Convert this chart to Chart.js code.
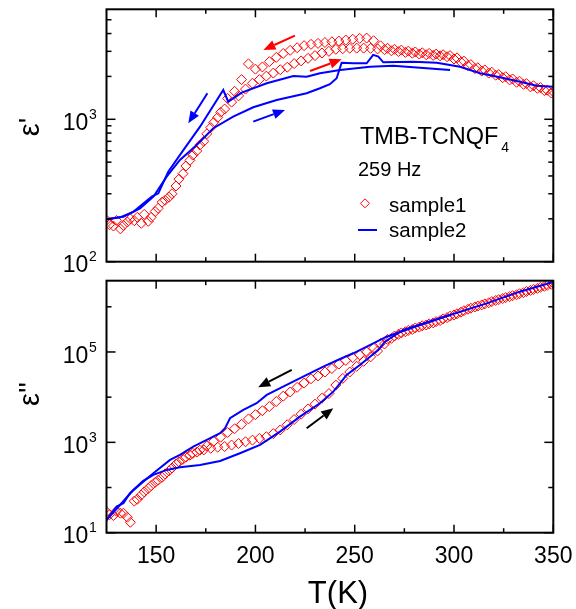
<!DOCTYPE html>
<html>
<head>
<meta charset="utf-8">
<script src="https://cdn.jsdelivr.net/npm/chart.js"></script>
<style>
  body { margin: 0; background: #fff; }
  #wrap { position: relative; width: 576px; height: 609px; }
  canvas { position: absolute; left: 0; }
  #cTop { top: 0; }
  #cBot { top: 272px; }
</style>
</head>
<body>
<div id="wrap">
  <canvas id="cTop" width="576" height="276"></canvas>
  <canvas id="cBot" width="576" height="337"></canvas>
</div>
<script>
// ---- sample1 (red diamonds), heating and cooling runs ----
var tHeatRed = [125,128.5,132,135.5,139,142.5,146,149.5,153,156.5,160,163.5,167,170.5,174,177.5,181,184.5,188,191.5,
  195,198.5,202,205.5,209,212.5,216,219.5,223,226.5,230,233.5,237,240.5,244,247.5,251,254.5,258,261.5,
  265,268.5,272,275.5,279,282.5,286,289.5,293,296.5,300,303.5,307,310.5,314,317.5,321,324.5,328,331.5,
  335,338.5,342,345.5,349];
var eps1HeatRed = [196,178,170,190,194,186,192,225,262,284,340,415,515,600,700,875,1030,1180,1320,1460,
  1630,1790,1900,2010,2110,2230,2320,2460,2570,2680,2800,2920,3000,3100,3130,3155,3160,3160,3150,3120,
  3080,3030,2990,2950,2910,2870,2840,2810,2790,2750,2650,2520,2380,2270,2180,2110,2040,1960,1890,1820,
  1760,1690,1650,1590,1530];
var eps2HeatRed = [29,24,27,22,50,68,95,130,168,235,330,420,520,610,680,740,780,810,870,940,
  1030,1120,1220,1330,1560,1880,2450,3200,4200,5500,7000,9500,12000,18500,26000,36000,48000,62000,78000,105000,
  150000,200000,245000,280000,315000,355000,395000,440000,495000,575000,660000,760000,880000,990000,1100000,1230000,1380000,1520000,1680000,1850000,
  2050000,2300000,2550000,2850000,3150000];

var tCoolRed = [126.5,130,133.5,137,140.5,144,147.5,151,154.5,158,161.5,165,168.5,172,175.5,179,182.5,186,189.5,193,
  196.5,200,203.5,207,210.5,214,217.5,221,224.5,228,231.5,235,238.5,242,245.5,249,252.5,256,259.5,263,
  266.5,270,273.5,277,280.5,284,287.5,291,294.5,298,301.5,305,308.5,312,315.5,319,322.5,326,329.5,333,
  336.5,340,343.5,347,350];
var eps1CoolRed = [182,195,180,200,205,215,205,237,270,300,380,470,560,660,790,950,1120,1400,1570,1900,
  2450,2250,2330,2540,2720,2900,3050,3180,3290,3360,3410,3460,3500,3540,3600,3650,3700,3720,3560,3280,
  3150,3100,3060,3010,2970,2930,2900,2870,2840,2800,2700,2560,2420,2300,2220,2140,2060,1990,1920,1850,
  1780,1720,1670,1600,1560];
var eps2CoolRed = [25,30,27,17,55,80,110,145,200,270,370,470,570,670,830,1050,1300,1650,2000,2500,
  3300,4100,5000,6200,8000,10500,13000,16500,20500,25500,29500,36000,43000,54000,65000,75000,86000,100000,122000,155000,
  190000,225000,265000,300000,340000,380000,420000,470000,540000,620000,700000,820000,930000,1040000,1160000,1300000,1440000,1600000,1760000,1950000,
  2180000,2420000,2700000,3000000,3300000];

// ---- sample2 (blue line) ----
var tHeatBlue1 = [125,133.5,141.9,148.6,155.3,162,170.4,178.8,188.8,198.9,210.7,225.8,232.5,237.5,240.9,243.4,249.3,256,259.3,261.9,264.4,279.5,291.3,303,313.1,323.1,333.2,341.6,350];
var eps1HeatBlue = [199,207,237,286,396,518,660,865,1043,1214,1367,1523,1651,1763,1941,2496,2473,2473,2833,2756,2513,2535,2495,2339,2104,1972,1837,1722,1694];
var tCoolBlue1 = [298,282.9,269.4,257.7,242.6,232.5,225.8,219.1,205.7,193.1,186.3,183.8,172.1,163.7,156.1,151.1,147.8,138.5,131.8,125];
var eps1CoolBlue = [2220,2301,2377,2339,2220,2104,1990,2015,1791,1538,1329,1606,887,608,428,302,286,224,205,199];

var tHeatBlue2 = [125,131.8,138.5,143.5,148.6,155.3,162,172.1,182.2,192.2,202.3,212.4,222.4,232.5,239.2,242.6,245.9,252.6,257.7,261.9,265.2,274.4,298,316.4,333.2,350];
var eps2HeatBlue = [19,41,88,140,190,245,281,316,387,574,875,1726,3710,7330,13250,20300,31000,51500,78700,111000,169000,307000,659000,1190000,2160000,3550000];
var tCoolBlue2 = [298,282.9,266.1,249.3,242.6,234.2,225.8,215.7,205.7,200.6,193.9,187.2,184.7,182.2,175.5,168.7,162,157,148.6,143.5,136.8,133.5,130.1,125];
var eps2CoolBlue = [659000,395000,218000,93600,70000,47300,31000,18600,11190,7330,5210,3410,2050,1589,1130,804,526,408,207,135,75,45,38,19];

// ---- axes ----
var xMajor = [150, 200, 250, 300, 350];
var xMinor = [175, 225, 275, 325];
var topYMajor = [100, 1000];
var topYMinor = [200, 300, 400, 500, 600, 700, 800, 900, 2000, 3000, 4000, 5000];
var botYMajor = [10, 1000, 100000];
var botYMinor = [100, 10000, 1000000];

// direction arrows [T0, eps0, T1, eps1]
var topArrows = [
  {p: [219.9, 3864, 204, 3070], c: '#ff0000'},
  {p: [227.5, 2183, 243.4, 2637], c: '#ff0000'},
  {p: [175.8, 1523, 166.2, 937], c: '#0000ff'},
  {p: [198.9, 962, 214.9, 1162], c: '#0000ff'}
];
var botArrows = [
  {p: [218.3, 40000, 201.4, 16600], c: '#000'},
  {p: [225.8, 2050, 239.2, 5680], c: '#000'}
];

var FONT = '"Liberation Sans", Arial, sans-serif';

function pts(xs, ys) {
  return xs.map(function (t, i) { return {x: t, y: ys[i]}; });
}

function redSet(xs, ys) {
  return {data: pts(xs, ys), showLine: false, pointStyle: 'rectRot', pointRadius: 5,
    borderColor: '#ff0000', backgroundColor: 'rgba(0,0,0,0)', borderWidth: 1};
}
function blueSet(xs, ys) {
  return {data: pts(xs, ys), showLine: true, pointRadius: 0, borderColor: '#0000ff',
    borderWidth: 2, fill: false, tension: 0};
}

function seg(ctx, x0, y0, x1, y1) {
  ctx.beginPath(); ctx.moveTo(x0, y0); ctx.lineTo(x1, y1); ctx.stroke();
}

function arrow(ctx, x0, y0, x1, y1, color) {
  var ang = Math.atan2(y1 - y0, x1 - x0), head = 12, half = 5;
  var bx = x1 - head * Math.cos(ang), by = y1 - head * Math.sin(ang);
  ctx.strokeStyle = color; ctx.fillStyle = color; ctx.lineWidth = 2;
  seg(ctx, x0, y0, bx, by);
  ctx.beginPath();
  ctx.moveTo(x1, y1);
  ctx.lineTo(bx + half * Math.sin(ang), by - half * Math.cos(ang));
  ctx.lineTo(bx - half * Math.sin(ang), by + half * Math.cos(ang));
  ctx.closePath(); ctx.fill();
}

function makeDecor(yMajor, yMinor, arrows, xLabels) {
  return {
    id: 'decor',
    afterDatasetsDraw: function (chart) {
      var ctx = chart.ctx, a = chart.chartArea, xs = chart.scales.x, ys = chart.scales.y;
      ctx.save();
      ctx.strokeStyle = '#000';
      ctx.lineWidth = 1.5;
      function vt(v, len) {
        var p = xs.getPixelForValue(v);
        seg(ctx, p, a.bottom, p, a.bottom - len); seg(ctx, p, a.top, p, a.top + len);
      }
      function ht(v, len) {
        var p = ys.getPixelForValue(v);
        seg(ctx, a.left, p, a.left + len, p); seg(ctx, a.right, p, a.right - len, p);
      }
      xMajor.forEach(function (v) { vt(v, 8); });
      xMinor.forEach(function (v) { vt(v, 4.5); });
      yMajor.forEach(function (v) { ht(v, 9); });
      yMinor.forEach(function (v) { ht(v, 5); });
      ctx.lineWidth = 2;
      ctx.strokeRect(a.left, a.top, a.right - a.left, a.bottom - a.top);

      ctx.fillStyle = '#000';
      yMajor.forEach(function (v) {
        var p = ys.getPixelForValue(v);
        ctx.font = '23px ' + FONT; ctx.textAlign = 'right';
        ctx.fillText('10', a.left - 18.2, p + 10.7);
        ctx.font = '14px ' + FONT; ctx.textAlign = 'left';
        ctx.fillText(String(Math.round(Math.log10(v))), a.left - 17.5, p - 0.3);
      });
      if (xLabels) {
        ctx.font = '23px ' + FONT; ctx.textAlign = 'center';
        xMajor.forEach(function (v) {
          ctx.fillText(String(v), xs.getPixelForValue(v), a.bottom + 30.6);
        });
      }
      arrows.forEach(function (ar) {
        arrow(ctx, xs.getPixelForValue(ar.p[0]), ys.getPixelForValue(ar.p[1]),
          xs.getPixelForValue(ar.p[2]), ys.getPixelForValue(ar.p[3]), ar.c);
      });
      ctx.restore();
    }
  };
}

function yTitle(ctx, text, x, y) {
  ctx.save();
  ctx.translate(x, y);
  ctx.rotate(-Math.PI / 2);
  ctx.font = '29px ' + FONT;
  ctx.fillStyle = '#000';
  ctx.textAlign = 'center';
  ctx.fillText(text, 0, 0);
  ctx.restore();
}

var topText = {
  id: 'topText',
  afterDraw: function (chart) {
    var ctx = chart.ctx;
    yTitle(ctx, "\u03b5'", 39, 127);
    ctx.save();
    ctx.fillStyle = '#000';
    ctx.textAlign = 'left';
    ctx.font = '23.5px ' + FONT;
    ctx.fillText('TMB-TCNQF', 360, 144);
    var w = ctx.measureText('TMB-TCNQF').width;
    ctx.font = '14px ' + FONT;
    ctx.fillText('4', 360 + w + 3, 151.7);
    ctx.font = '20px ' + FONT;
    ctx.fillText('259 Hz', 358, 176);
    ctx.font = '20.5px ' + FONT;
    ctx.fillText('sample1', 389, 211.7);
    ctx.fillText('sample2', 389, 236.7);
    ctx.strokeStyle = '#ff0000'; ctx.lineWidth = 1;
    ctx.beginPath();
    ctx.moveTo(360.5, 203.3); ctx.lineTo(365, 198.8); ctx.lineTo(369.5, 203.3); ctx.lineTo(365, 207.8);
    ctx.closePath(); ctx.stroke();
    ctx.strokeStyle = '#0000ff'; ctx.lineWidth = 2;
    seg(ctx, 358, 230, 377, 230);
    ctx.restore();
  }
};

var botText = {
  id: 'botText',
  afterDraw: function (chart) {
    var ctx = chart.ctx;
    yTitle(ctx, "\u03b5''", 39, 122);
    ctx.save();
    ctx.fillStyle = '#000';
    ctx.textAlign = 'center';
    ctx.font = '31px ' + FONT;
    ctx.fillText('T(K)', 338, 331);
    ctx.restore();
  }
};

function baseOptions(pad, yMin, yMax) {
  return {
    responsive: false,
    animation: false,
    layout: {padding: pad},
    plugins: {legend: {display: false}, tooltip: {enabled: false}},
    scales: {
      x: {type: 'linear', min: 125, max: 350, display: false},
      y: {type: 'logarithmic', min: yMin, max: yMax, display: false}
    }
  };
}

new Chart(document.getElementById('cTop').getContext('2d'), {
  type: 'scatter',
  data: {
    datasets: [
      blueSet(tHeatBlue1, eps1HeatBlue),
      blueSet(tCoolBlue1, eps1CoolBlue),
      redSet(tHeatRed, eps1HeatRed),
      redSet(tCoolRed, eps1CoolRed)
    ]
  },
  options: baseOptions({left: 106.5, right: 22.7, top: 9.3, bottom: 14.3}, 100, 5920),
  plugins: [makeDecor(topYMajor, topYMinor, topArrows, false), topText]
});

new Chart(document.getElementById('cBot').getContext('2d'), {
  type: 'scatter',
  data: {
    datasets: [
      blueSet(tHeatBlue2, eps2HeatBlue),
      blueSet(tCoolBlue2, eps2CoolBlue),
      redSet(tHeatRed, eps2HeatRed),
      redSet(tCoolRed, eps2CoolRed)
    ]
  },
  options: baseOptions({left: 106.5, right: 22.7, top: 8.7, bottom: 76.3}, 10, 3780000),
  plugins: [makeDecor(botYMajor, botYMinor, botArrows, true), botText]
});
</script>
</body>
</html>
